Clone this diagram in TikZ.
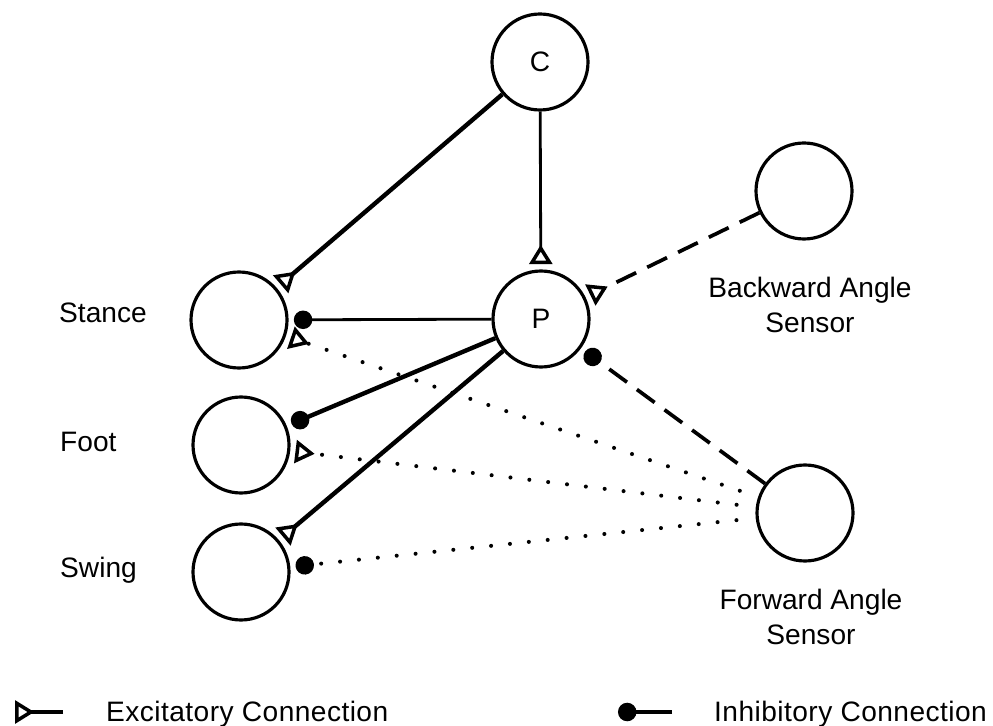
\documentclass[tikz,border=0pt]{standalone}
\usepackage{fontspec}
\setmainfont{Liberation Sans}
\usetikzlibrary{arrows.meta}

\tikzset{
  neuron/.style={draw, circle, line width=1.8pt, minimum size=1.92cm, inner sep=0pt},
  exc/.style={-{Triangle[open,reversed,length=11pt,width=13pt,line width=2pt]}, shorten >=3pt},
  inh/.style={-{Circle[length=10.5pt]}, shorten >=3pt},
  dashlink/.style={line width=2.1pt, dash pattern=on 12.5pt off 7pt},
  dotlink/.style={line width=2.3pt, line cap=round, dash pattern=on 0pt off 10.8pt, shorten <=11pt},
  lbl/.style={anchor=base west}
}

\begin{document}
\begin{tikzpicture}[x=0.2mm, y=-0.2mm, font=\fontsize{16}{20.4}\selectfont]
\useasboundingbox (0,0) rectangle (993,726);

\node[neuron] (C) at (540,62) {C};
\node[neuron] (P) at (541,319) {P};
\node[neuron] (stance) at (239,320) {};
\node[neuron] (foot) at (241,445) {};
\node[neuron] (swing) at (241,572) {};
\node[neuron] (bwd) at (804,191) {};
\node[neuron] (fwd) at (805,513) {};

\node[lbl] (stancelbl) at (53,323) {Stance};
\node[lbl] (footlbl) at (54,452) {Foot};
\node[lbl] (swinglbl) at (54,577) {Swing};
\node[align=center] (bwdlbl) at (810,305) {Backward Angle\\Sensor};
\node[align=center] (fwdlbl) at (811,617) {Forward Angle\\Sensor};

\draw[exc, line width=2.5pt] (C) -- (stance);
\draw[exc, line width=1.6pt] (C) -- (P);
\draw[inh, line width=1.6pt] (P) -- (stance);
\draw[inh, line width=2.5pt] (P) -- (foot);
\draw[exc, line width=2.5pt] (P) -- (swing);

\draw[exc, dashlink] (bwd) -- (P);
\draw[inh, dashlink] (fwd) -- (P);

\draw[exc, dotlink] (fwd) -- (stance);
\draw[exc, dotlink] (fwd) -- (foot);
\draw[inh, dotlink] (fwd) -- (swing);

\coordinate (excA) at (63,712);
\coordinate (excB) at (15,712);
\coordinate (inhA) at (672,712);
\coordinate (inhB) at (618,712);
\draw[exc, shorten >=0pt, line width=1.8pt] (excA) -- (excB);
\draw[inh, shorten >=0pt, line width=1.8pt] (inhA) -- (inhB);
\node[lbl] (exclbl) at (100,721) {\addfontfeature{LetterSpace=1.6}Excitatory Connection};
\node[lbl] (inhlbl) at (708,721) {\addfontfeature{LetterSpace=1.6}Inhibitory Connection};

\end{tikzpicture}
\end{document}
